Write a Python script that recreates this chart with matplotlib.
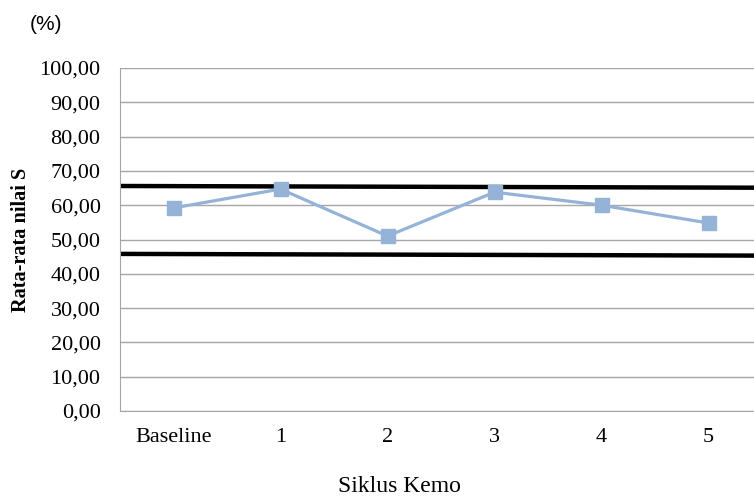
import matplotlib.pyplot as plt

categories = ["Baseline", "1", "2", "3", "4", "5"]
values = [59.2, 64.7, 51.0, 63.8, 60.0, 54.8]
upper_limit = [65.6, 65.1]
lower_limit = [45.8, 45.3]
yticks = [0, 10, 20, 30, 40, 50, 60, 70, 80, 90, 100]

fig = plt.figure(figsize=(7.54, 4.96), dpi=100)
ax = fig.add_axes([120 / 754, 1 - 411 / 496, 642 / 754, 343 / 496])

x = list(range(len(categories)))
ax.plot(x, values, color="#95b3d7", linewidth=2.3, marker="s", markersize=9.5, zorder=3)

# control limits drawn across the whole plot
ax.plot([-0.5, len(categories) - 0.5], upper_limit, color="black", linewidth=3.2, zorder=2)
ax.plot([-0.5, len(categories) - 0.5], lower_limit, color="black", linewidth=3.2, zorder=2)

ax.set_xlim(-0.5, len(categories) - 0.5)
ax.set_ylim(0, 100)
ax.set_xticks(x)
ax.set_xticklabels(categories, fontfamily="Liberation Serif", fontsize=16)
ax.set_yticks(yticks)
ax.set_yticklabels([("%.2f" % v).replace(".", ",") for v in yticks],
                   fontfamily="Liberation Serif", fontsize=16)
ax.tick_params(length=0)
ax.tick_params(axis="x", pad=12)
ax.tick_params(axis="y", pad=14)

ax.grid(axis="y", color="#a6a6a6", linewidth=1)
ax.set_axisbelow(True)
for s in ["top", "right"]:
    ax.spines[s].set_visible(False)
ax.spines["left"].set_color("#a6a6a6")
ax.spines["bottom"].set_color("#a6a6a6")

ax.set_ylabel("Rata-rata nilai S", fontfamily="Liberation Serif", fontweight="bold", fontsize=14.6)
ax.yaxis.set_label_coords(-89 / 642, 0.5)
ax.set_xlabel("Siklus Kemo", fontfamily="Liberation Serif", fontsize=17, va="center")
ax.xaxis.set_label_coords(279 / 642, -75 / 343)

fig.text(30 / 754, 1 - 24 / 496, "(%)", fontfamily="Liberation Sans", fontsize=15, va="center")

fig.savefig("out.png", dpi=100)
